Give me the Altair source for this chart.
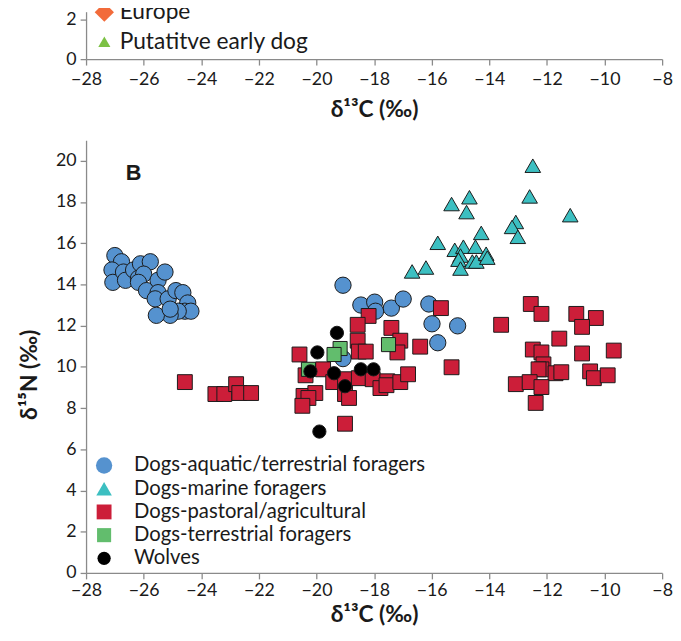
import altair as alt
import pandas as pd

# ---------------- data ----------------
x_ticks = list(range(-28, -7, 2))
y_ticks_b = list(range(0, 21, 2))
y_ticks_a = [0, 2]

groups = ["Dogs-aquatic/terrestrial foragers", "Dogs-marine foragers",
          "Dogs-pastoral/agricultural", "Dogs-terrestrial foragers", "Wolves"]
colors = ["#5592cf", "#3cbfc1", "#cc1e39", "#62bd6d", "#000000"]
shapes = ["circle", "triangle-up", "square", "square", "circle"]
sizes = [272, 180, 215, 215, 235]

top_groups = ["Europe", "Putatitve early dog"]
top_colors = ["#f26b3a", "#7cc144"]
top_shapes = ["diamond", "triangle-up"]
top_sizes = [380, 150]

aq_x = [-27.0, -26.77, -27.1, -27.07, -26.7, -26.63, -26.35, -26.18, -26.11, -25.77,
        -26.0, -26.18, -25.9, -25.5, -25.26, -25.5, -25.6, -25.15, -24.88, -24.64,
        -24.47, -24.57, -24.36, -24.8, -25.08, -25.56, -25.08,
        -19.08, -18.46, -17.98, -17.95, -17.4, -16.99, -16.1, -15.99, -15.1, -15.79, -19.08]
aq_y = [15.4, 15.1, 14.7, 14.1, 14.6, 14.2, 14.7, 14.3, 15.0, 15.1,
        14.5, 14.1, 13.7, 14.2, 14.6, 13.6, 13.3, 13.3, 13.7, 13.6,
        13.1, 12.7, 12.7, 12.7, 12.5, 12.5, 12.8,
        13.96, 13.0, 13.14, 12.7, 12.85, 13.29, 13.05, 12.09, 11.99, 11.17, 10.4]

mar_x = [-12.49, -14.69, -15.31, -12.6, -14.79, -11.19, -13.08, -13.21, -14.28, -13.01,
         -15.79, -15.2, -14.9, -14.48, -15.0, -15.07, -14.59, -14.45, -14.11, -14.07,
         -15.0, -16.2, -16.68]
mar_y = [19.76, 18.23, 17.9, 18.27, 17.51, 17.36, 17.03, 16.79, 16.5, 16.31,
         16.02, 15.68, 15.83, 15.83, 15.4, 15.2, 15.11, 15.11, 15.49, 15.3,
         14.77, 14.82, 14.63]

past_x = [-24.57, -23.51, -23.2, -22.79, -22.68, -22.27,
          -15.68, -18.19, -18.57, -17.4, -17.09, -18.57, -18.53, -18.29, -17.19, -16.4,
          -15.31, -20.59, -19.77, -20.38, -19.42, -19.01, -18.53, -18.05, -17.78, -17.54,
          -17.57, -17.09, -16.82, -20.45, -20.04, -20.28, -20.49, -19.01, -18.87, -19.01,
          -12.56, -12.19, -10.98, -10.3, -10.78, -13.59, -11.57, -12.49, -12.19, -10.78,
          -9.68, -12.12, -12.19, -12.29, -11.7, -11.5, -10.5, -10.37, -9.89, -13.08,
          -12.6, -12.19, -12.39]
past_y = [9.26, 8.68, 8.68, 9.16, 8.73, 8.73,
          12.85, 12.47, 12.04, 11.89, 11.27, 11.27, 10.74, 10.74, 10.7, 10.98,
          9.98, 10.6, 9.88, 9.59, 9.26, 9.4, 9.45, 9.4, 8.97, 9.3,
          9.11, 9.26, 9.64, 8.59, 8.73, 8.49, 8.11, 8.68, 8.49, 7.24,
          13.05, 12.57, 12.57, 12.37, 11.94, 12.04, 11.37, 10.84, 10.7, 10.65,
          10.79, 10.12, 9.88, 9.88, 9.69, 9.74, 9.78, 9.45, 9.59, 9.16,
          9.26, 9.02, 8.25]

terr_x = [-19.18, -19.39, -20.28, -17.5]
terr_y = [10.89, 10.6, 9.88, 11.08]

wolf_x = [-19.29, -19.97, -20.21, -19.39, -19.01, -18.46, -18.02, -19.9]
wolf_y = [11.65, 10.7, 9.78, 9.69, 9.06, 9.88, 9.88, 6.86]

# ---------------- tables ----------------
rows = []
for g, xs, ys in zip(groups, [aq_x, mar_x, past_x, terr_x, wolf_x],
                     [aq_y, mar_y, past_y, terr_y, wolf_y]):
    for xv, yv in zip(xs, ys):
        rows.append({"d13C": xv, "d15N": yv, "group": g})
df_b = pd.DataFrame(rows)

df_a = pd.DataFrame({"d13C": [None, None], "d15N": [None, None], "group": top_groups})

FONT = "Lato"
INK = "#1a1a1a"

def xaxis(label_pad, title_pad):
    return alt.Axis(values=x_ticks, title="δ¹³C (‰)", grid=False, labelFlush=False,
                    labelPadding=label_pad, titlePadding=title_pad)

# ---------------- panel A (cropped) ----------------
leg_a = alt.Legend(title=None, orient="none", legendX=7, legendY=-11, labelFontSize=23,
                   labelFont=FONT, labelColor=INK, labelOffset=4, rowPadding=6,
                   labelLimit=0,
                   symbolStrokeColor=INK, symbolStrokeWidth=1, symbolOpacity=1, padding=0)

top = alt.Chart(df_a).mark_point(filled=True, opacity=1, stroke=INK, strokeWidth=1).encode(
    x=alt.X("d13C:Q", scale=alt.Scale(domain=[-28, -8], nice=False, zero=False),
            axis=xaxis(6, 10)),
    y=alt.Y("d15N:Q", scale=alt.Scale(domain=[0, 2.4], nice=False),
            axis=alt.Axis(values=y_ticks_a, title=None, grid=False)),
    color=alt.Color("group:N", scale=alt.Scale(domain=top_groups, range=top_colors), legend=leg_a),
    shape=alt.Shape("group:N", scale=alt.Scale(domain=top_groups, range=top_shapes), legend=leg_a),
    size=alt.Size("group:N", scale=alt.Scale(domain=top_groups, range=top_sizes), legend=leg_a),
).properties(width=583, height=48)

# ---------------- panel B ----------------
leg_b = alt.Legend(title=None, orient="none", legendX=8, legendY=319, symbolSize=196,
                   labelFontSize=20.5, labelFont=FONT, labelColor=INK, labelOffset=20,
                   labelLimit=0,
                   rowPadding=2.5, symbolStrokeColor=INK, symbolStrokeWidth=1,
                   symbolOpacity=1, padding=0)

pts = alt.Chart(df_b).mark_point(filled=True, opacity=1, stroke=INK, strokeWidth=1).encode(
    x=alt.X("d13C:Q", scale=alt.Scale(domain=[-28, -8], nice=False, zero=False),
            axis=xaxis(3, 4)),
    y=alt.Y("d15N:Q", scale=alt.Scale(domain=[0, 21], nice=False),
            axis=alt.Axis(values=y_ticks_b, title="δ¹⁵N (‰)", grid=False, titleAngle=270,
                          titleBaseline="middle", titleX=-57, titleY=237)),
    color=alt.Color("group:N", scale=alt.Scale(domain=groups, range=colors), legend=leg_b),
    shape=alt.Shape("group:N", scale=alt.Scale(domain=groups, range=shapes), legend=leg_b),
    size=alt.Size("group:N", scale=alt.Scale(domain=groups, range=sizes), legend=None),
)

label_b = alt.Chart(pd.DataFrame({"t": ["B"]})).mark_text(
    font="Liberation Sans", fontSize=22, fontWeight="bold", color=INK,
    align="center", baseline="middle").encode(
    text="t:N", x=alt.value(48), y=alt.value(33))

bottom = alt.layer(pts, label_b).properties(width=583, height=438)

chart = alt.vconcat(top, bottom, spacing=19).resolve_scale(
    color="independent", shape="independent", size="independent"
).resolve_legend(
    color="independent", shape="independent", size="independent"
).properties(
    padding={"left": 11, "top": -11, "right": 0, "bottom": 0}
).configure_view(stroke=None).configure_axis(
    domainColor="#8a8a8a", domainWidth=1.3, tickColor="#8a8a8a", tickWidth=1.3, tickSize=6,
    labelFont=FONT, labelFontSize=18, labelColor=INK, labelPadding=4,
    titleFont=FONT, titleFontSize=23, titleFontWeight="bold", titleColor=INK,
)

chart.save("out.html", embed_options={"renderer": "svg", "actions": False})
